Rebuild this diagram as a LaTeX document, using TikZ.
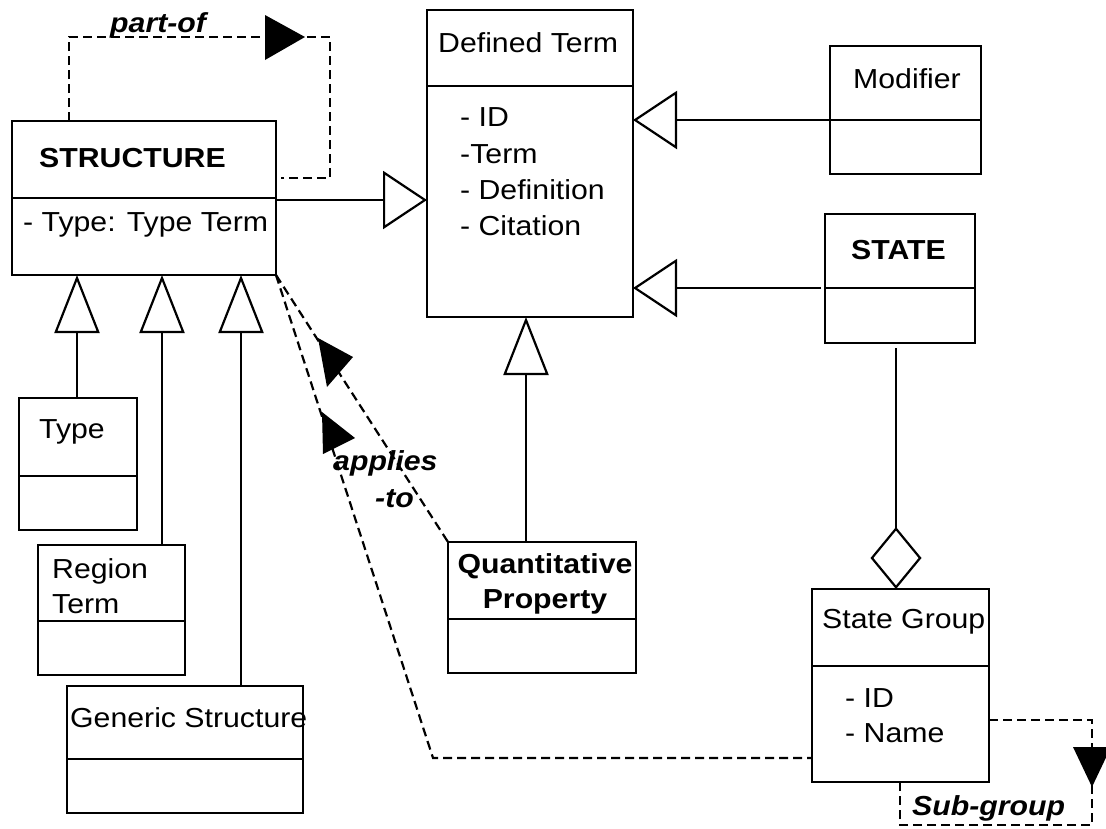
\documentclass[tikz,border=0pt]{standalone}
\usepackage{fontspec}
\setmainfont{Liberation Sans}[FakeStretch=1.1]
\usetikzlibrary{arrows.meta}

% class box: name, left, top, right, bottom, y of the compartment divider
\newcommand\umlclass[6]{%
  \node[frame, minimum width={(#4-#2)*1pt}, minimum height={(#5-#3)*1pt}] (#1) at (#2,#3) {};
  \draw[link] (#2,#6) -- (#4,#6);}

\begin{document}
\begin{tikzpicture}[x=1pt,y=-1pt,
  frame/.style={draw, line width=2.2pt, anchor=north west, inner sep=0pt, outer sep=0pt},
  lbl/.style={anchor=base west, inner sep=0pt, font=\fontsize{27.5}{33}\selectfont},
  blbl/.style={lbl, font=\fontsize{27.5}{33}\selectfont\bfseries},
  ilbl/.style={lbl, font=\fontsize{27.5}{33}\selectfont\bfseries\itshape},
  link/.style={line width=2.2pt},
  dep/.style={line width=2.2pt, dash pattern=on 9pt off 5pt},
  inheritH/.style={link, -{Triangle[open, length=44pt, width=58pt, fill=white]}},
  inheritV/.style={link, -{Triangle[open, length=58pt, width=45pt, fill=white]}},
  aggr/.style={link, -{Diamond[open, length=62pt, width=51pt, fill=white]}},
]
\useasboundingbox (0,0) rectangle (1106,828);
\fill[white] (0,0) rectangle (1106,828);

% classes
\umlclass{structure}{12}{121}{276}{275}{198}
\umlclass{dt}{427}{10}{633}{317}{86}
\umlclass{modifier}{830}{46}{981}{174}{120}
\umlclass{state}{825}{214}{975}{343}{288}
\umlclass{type}{19}{398}{137}{530}{476}
\umlclass{region}{38}{545}{185}{675}{621}
\umlclass{generic}{67}{686}{303}{813}{759}
\umlclass{qp}{448}{542}{636}{673}{619}
\umlclass{sg}{812}{589}{989}{782}{666}

% class names and attributes
\node[blbl] (structureName) at (39,167) {STRUCTURE};
\node[lbl] (structureAttr) at (23,231) {- Type: Type Term};
\node[lbl] (dtName) at (438,52) {Defined Term};
\node[lbl] (dtId) at (460,126) {- ID};
\node[lbl] (dtTerm) at (460,163) {-Term};
\node[lbl] (dtDef) at (460,199) {- Definition};
\node[lbl] (dtCit) at (460,235) {- Citation};
\node[lbl] (modifierName) at (853,88) {Modifier};
\node[blbl] (stateName) at (851,259) {STATE};
\node[lbl] (typeName) at (39,438) {Type};
\node[lbl] (regionName1) at (52,578) {Region};
\node[lbl] (regionName2) at (52,613) {Term};
\node[lbl] (genericName) at (70,727) {Generic Structure};
\node[blbl, anchor=base] (qpName1) at (545,573) {Quantitative};
\node[blbl, anchor=base] (qpName2) at (545,608) {Property};
\node[lbl] (sgName) at (822,628) {State Group};
\node[lbl] (sgId) at (845,707) {- ID};
\node[lbl] (sgName2) at (845,742) {- Name};

% generalisations
\draw[inheritH] (structure.east |- 0,200) -- (dt.west |- 0,200);
\draw[inheritH] (modifier.west |- 0,120) -- (dt.east |- 0,120);
\draw[inheritH, shorten <=4pt] (state.west |- 0,288) -- (dt.east |- 0,288);
\draw[inheritV] (qp.north -| 526,0) -- (dt.south -| 526,0);
\draw[inheritV] (type.north -| 77,0) -- (structure.south -| 77,0);
\draw[inheritV] (region.north -| 162,0) -- (structure.south -| 162,0);
\draw[inheritV] (generic.north -| 241,0) -- (structure.south -| 241,0);

% aggregation
\draw[aggr, shorten <=5pt] (state.south -| 896,0) -- (sg.north -| 896,0);

% part-of self association
\draw[dep, shorten >=5pt] (structure.north -| 69,0) -- (69,37) -- (330,37) -- (330,178) -- (structure.east |- 0,178);
\fill (265,15) -- (305,37) -- (265,60) -- cycle;
\node[ilbl] (partofLabel) at (110,32) {part-of};

% applies-to associations
\coordinate (appliesBend) at (433,758);
\draw[dep] (structure.south east) -- (qp.north west);
\draw[dep] (structure.south east) -- (appliesBend) -- (sg.west |- 0,758);
\fill (318,338) -- (353,357) -- (327,387) -- cycle;
\fill (322,412) -- (355,438) -- (323,454) -- cycle;
\node[ilbl] (appliesLabel1) at (333,470) {applies};
\node[ilbl] (appliesLabel2) at (375,507) {-to};

% sub-group self association
\draw[dep] (sg.east |- 0,720) -- (1092,720) -- (1092,825) -- (900,825) -- (sg.south -| 900,0);
\fill (1073,747) -- (1111,747) -- (1092,787) -- cycle;
\node[ilbl] (subgroupLabel) at (912,815) {Sub-group};
\end{tikzpicture}
\end{document}
